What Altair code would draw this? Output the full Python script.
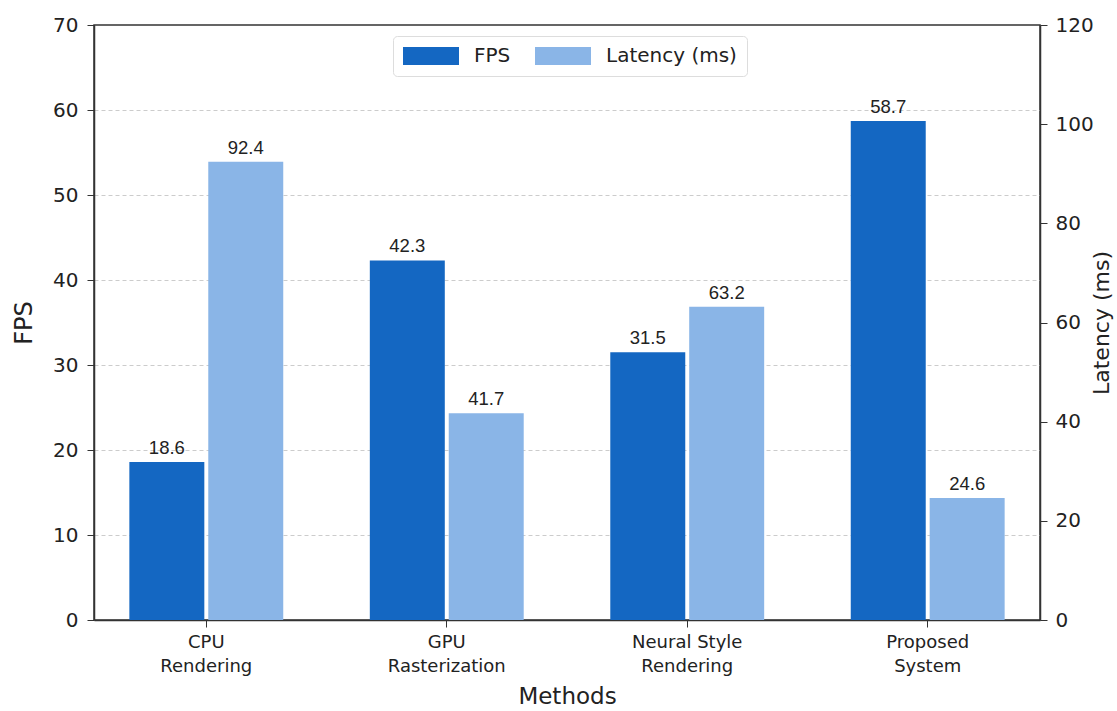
import altair as alt
import pandas as pd

# Method names (line break marks where the axis label wraps)
methods = ["CPU\nRendering", "GPU\nRasterization", "Neural Style\nRendering", "Proposed\nSystem"]
fps = [18.6, 42.3, 31.5, 58.7]
latency = [92.4, 41.7, 63.2, 24.6]

series = ["FPS", "Latency (ms)"]
colors = ["#1467C2", "#8AB5E7"]

fps_df = pd.DataFrame({"method": methods, "value": fps, "series": series[0]})
lat_df = pd.DataFrame({"method": methods, "value": latency, "series": series[1]})

font = "DejaVu Sans"

x_enc = alt.X(
    "method:N",
    sort=methods,
    scale=alt.Scale(paddingInner=0.36, paddingOuter=0.147),
    axis=alt.Axis(
        title="Methods",
        labelAngle=0,
        labelExpr="split(datum.value, '\\n')",
        labelFontSize=18,
        labelLineHeight=24,
        labelPadding=6,
        titleFontSize=23,
        titlePadding=10,
        tickSize=7,
        domainColor="#333",
        tickColor="#333",
    ),
)
xo_enc = alt.XOffset("series:N", sort=series, scale=alt.Scale(domain=series, paddingInner=0.05))

# Wide rectangular legend swatch: drawn from a small symbol size so the row stays short
color_enc = alt.Color(
    "series:N",
    scale=alt.Scale(domain=series, range=colors),
    legend=alt.Legend(
        title=None,
        orient="none",
        legendX=299,
        legendY=11,
        direction="horizontal",
        symbolType="M-1,-0.9L4.6,-0.9L4.6,0.9L-1,0.9Z",
        symbolSize=400,
        symbolStrokeWidth=0,
        labelFontSize=20,
        labelFont=font,
        labelColor="#222",
        columnPadding=24,
        labelOffset=51,
        padding=10,
        strokeColor="#dddddd",
        fillColor="white",
        cornerRadius=4,
    ),
)

fps_axis = alt.Axis(
    title="FPS",
    values=[0, 10, 20, 30, 40, 50, 60, 70],
    grid=True,
    gridDash=[4, 3],
    gridColor="#cccccc",
    gridOpacity={"expr": "datum.value >= 70 ? 0 : 1"},
    labelFontSize=20,
    labelPadding=9,
    titleFontSize=24,
    titlePadding=16,
    tickSize=7,
    domainColor="#333",
    tickColor="#333",
)
lat_axis = alt.Axis(
    title="Latency (ms)",
    orient="right",
    values=[0, 20, 40, 60, 80, 100, 120],
    grid=False,
    labelFontSize=20,
    labelPadding=8,
    titleFontSize=22,
    titleAngle=270,
    titleBaseline="top",
    titlePadding=-2,
    tickSize=7,
    domainColor="#333",
    tickColor="#333",
)

fps_y = alt.Y("value:Q", scale=alt.Scale(domain=[0, 70], nice=False), axis=fps_axis)
lat_y = alt.Y("value:Q", scale=alt.Scale(domain=[0, 120], nice=False), axis=lat_axis)

label_style = dict(baseline="bottom", dy=-4, fontSize=18.5, font="Liberation Sans", color="#222")

fps_bars = alt.Chart(fps_df).mark_bar().encode(x=x_enc, xOffset=xo_enc, y=fps_y, color=color_enc)
fps_text = alt.Chart(fps_df).mark_text(**label_style).encode(
    x=x_enc, xOffset=xo_enc, y=fps_y, text=alt.Text("value:Q", format=".1f")
)

lat_bars = alt.Chart(lat_df).mark_bar().encode(x=x_enc, xOffset=xo_enc, y=lat_y, color=color_enc)
lat_text = alt.Chart(lat_df).mark_text(**label_style).encode(
    x=x_enc, xOffset=xo_enc, y=lat_y, text=alt.Text("value:Q", format=".1f")
)

chart = (
    alt.layer(alt.layer(fps_bars, fps_text), alt.layer(lat_bars, lat_text))
    .resolve_scale(y="independent")
    .properties(
        width=946,
        height=595,
        autosize=alt.AutoSizeParams(type="none"),
        padding={"left": 94, "top": 25, "right": 77, "bottom": 91},
        background="white",
    )
    .configure_view(stroke="#333", strokeWidth=1.5)
    .configure_axis(
        labelFont=font,
        titleFont=font,
        labelColor="#222",
        titleColor="#222",
        titleFontWeight="normal",
        domainWidth=1.5,
    )
)

chart.save("out.html", embed_options={"renderer": "svg", "actions": False})
